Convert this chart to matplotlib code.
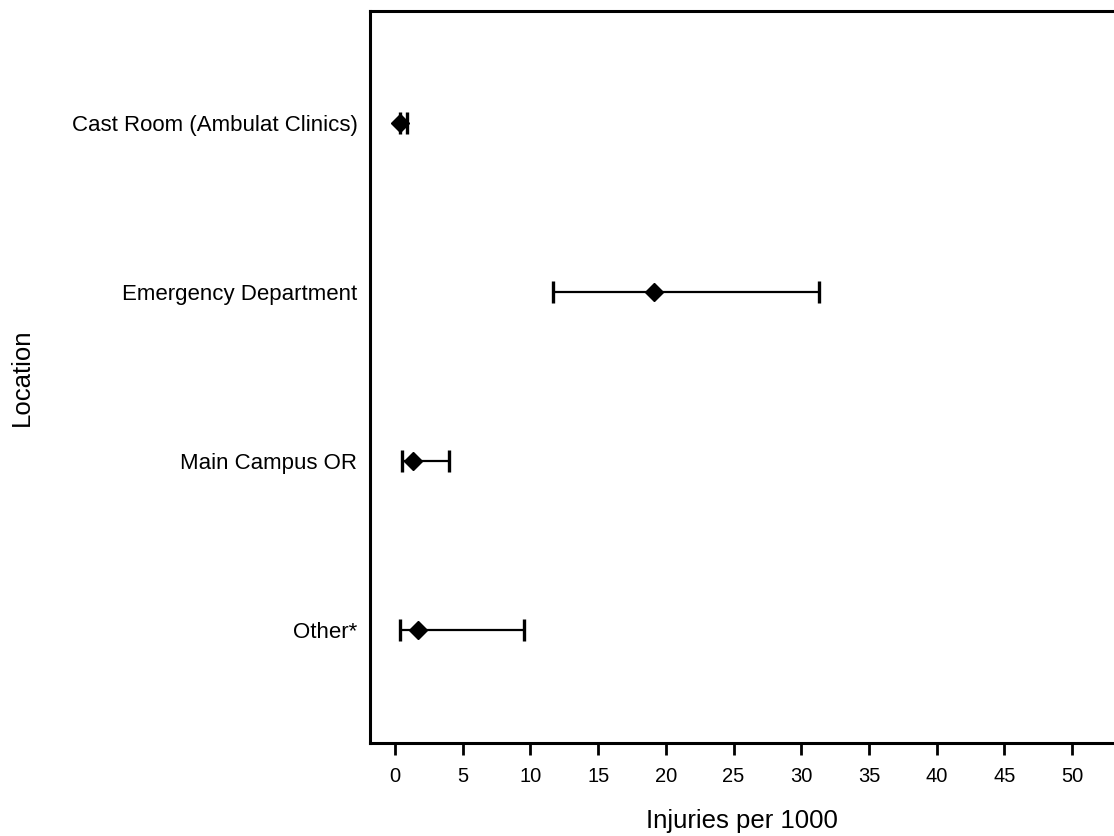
import matplotlib
matplotlib.use("Agg")
import matplotlib.pyplot as plt
import numpy as np

plt.rcParams['font.family'] = ['Liberation Sans', 'DejaVu Sans']

locations = ["Cast Room (Ambulat Clinics)", "Emergency Department", "Main Campus OR", "Other*"]
rate = [0.35, 19.1, 1.36, 1.73]
ci_low = [0.35, 11.7, 0.5, 0.37]
ci_high = [0.9, 31.3, 3.95, 9.5]
xticks = [0, 5, 10, 15, 20, 25, 30, 35, 40, 45, 50]

fig = plt.figure(figsize=(11.14, 8.36), dpi=100)
ax = fig.add_axes([370/1114, 1 - 743/836, 1 - 370/1114, (743 - 11)/836])

y = np.arange(len(locations))
rate_a = np.array(rate)
err = [rate_a - np.array(ci_low), np.array(ci_high) - rate_a]
ax.errorbar(rate_a, y, xerr=err, fmt='D', color='black', ecolor='black',
            markersize=9, elinewidth=1.6, capsize=8, capthick=2.4)

ax.set_xlim(-1.85, 53.1)
ax.set_ylim(len(locations) - 1 + 0.67, -0.66)
ax.set_yticks(y)
ax.set_yticklabels(locations, fontsize=16)
ax.tick_params(axis='y', length=0, pad=9)
ax.set_xticks(xticks)
ax.set_xticklabels([str(v) for v in xticks], fontsize=14.5)
ax.tick_params(axis='x', direction='out', length=8.5, width=2, pad=9)

for s in ['left', 'bottom', 'top']:
    ax.spines[s].set_linewidth(2.2)
ax.spines['right'].set_visible(False)

ax.set_xlabel("Injuries per 1000", fontsize=18.5, labelpad=16.5)
ax.set_ylabel("Location", fontsize=18.5)
ax.yaxis.set_label_coords(-(370 - 34) / (1114 - 370), 0.5)

fig.savefig("out.png", dpi=100)
